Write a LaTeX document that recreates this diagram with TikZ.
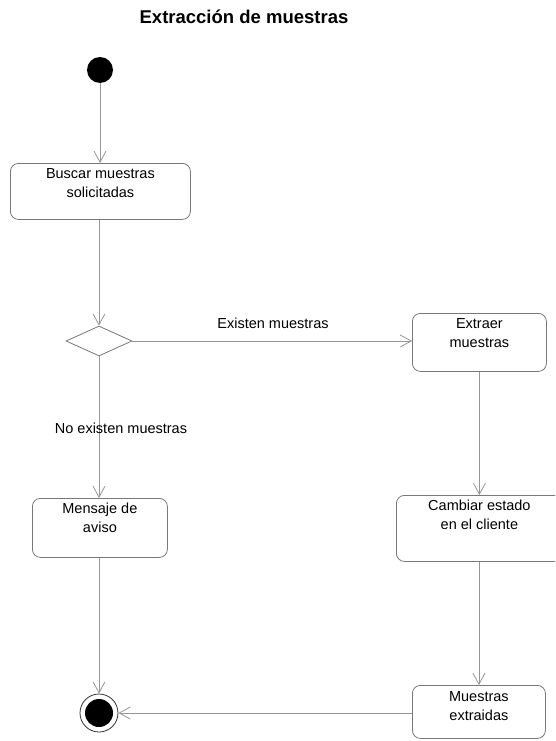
\documentclass[tikz,border=0pt]{standalone}
\usepackage{fontspec}
\setmainfont{Liberation Sans}
\usetikzlibrary{arrows.meta,shapes.geometric}

\definecolor{boxline}{RGB}{120,120,120}
\definecolor{flowline}{RGB}{150,150,150}

\tikzset{
  actbox/.style={draw=boxline, line width=0.8pt, rounded corners=8pt,
                 fill=white, anchor=north west, inner sep=0pt},
  acttext/.style={anchor=north, inner sep=0pt, align=center,
                  font=\fontsize{14.5}{19}\selectfont, text=black},
  flow/.style={draw=flowline, line width=0.8pt,
               -{Straight Barb[length=11pt,width=12pt,line width=0.8pt]}},
  guardtext/.style={font=\fontsize{14.5}{19}\selectfont, text=black, inner sep=0pt},
  decision/.style={diamond, draw=boxline, line width=0.8pt, fill=white,
                   minimum width=66pt, minimum height=30pt, inner sep=0pt, aspect=2.2},
}

\begin{document}
\begin{tikzpicture}[x=1pt, y=-1pt]
  % page frame
  \useasboundingbox (0,0) rectangle (555,741);
  \clip (0,0) rectangle (555,741);

  % title
  \node[font=\fontsize{18.5}{20}\selectfont\bfseries] (title) at (244,17) {Extracción de muestras};

  % start and end states
  \node[circle, fill=black, minimum size=26pt, inner sep=0pt] (inicio) at (100,70) {};
  \node[circle, draw=black!80, line width=0.8pt, fill=white, minimum size=38pt, inner sep=0pt] (fin) at (99,713) {};
  \node[circle, fill=black, minimum size=28pt, inner sep=0pt] (finin) at (fin.center) {};

  % activities
  \node[actbox, minimum width=180pt, minimum height=56pt] (buscar) at (10,163) {};
  \node[acttext] (buscart) at ([yshift=-5pt]buscar.north) {Buscar muestras\\solicitadas};

  \node[decision] (dec) at (99,341) {};

  \node[actbox, minimum width=134pt, minimum height=58pt] (extraer) at (412,313) {};
  \node[acttext] (extraert) at ([yshift=-5pt]extraer.north) {Extraer\\muestras};

  \node[actbox, minimum width=135pt, minimum height=59pt] (mensaje) at (32,498) {};
  \node[acttext] (mensajet) at ([yshift=-5pt]mensaje.north) {Mensaje de\\aviso};

  \node[actbox, minimum width=166pt, minimum height=66pt] (cambiar) at (396,495) {};
  \node[acttext] (cambiart) at ([yshift=-5pt]cambiar.north) {Cambiar estado\\en el cliente};

  \node[actbox, minimum width=133pt, minimum height=53pt] (muestras) at (412,685) {};
  \node[acttext] (muestrast) at ([yshift=-6pt]muestras.north) {Muestras\\extraidas};

  % transitions
  \draw[flow] (inicio.south) -- (inicio.south |- buscar.north);
  \draw[flow] (buscar.south -| dec.north) -- (dec.north);
  \draw[flow] (dec.east) -- (dec.east -| extraer.west);
  \draw[flow] (dec.south) -- (dec.south |- mensaje.north);
  \draw[flow] (extraer.south -| cambiar.north) -- (cambiar.north);
  \draw[flow] (cambiar.south -| muestras.north) -- (muestras.north);
  \draw[flow] (mensaje.south -| fin.north) -- (fin.north);
  \draw[flow] (muestras.west |- fin.east) -- (fin.east);

  % guard labels
  \node[guardtext] (g1) at (273,323) {Existen muestras};
  \node[guardtext] (g2) at (121,428) {No existen muestras};
\end{tikzpicture}
\end{document}
